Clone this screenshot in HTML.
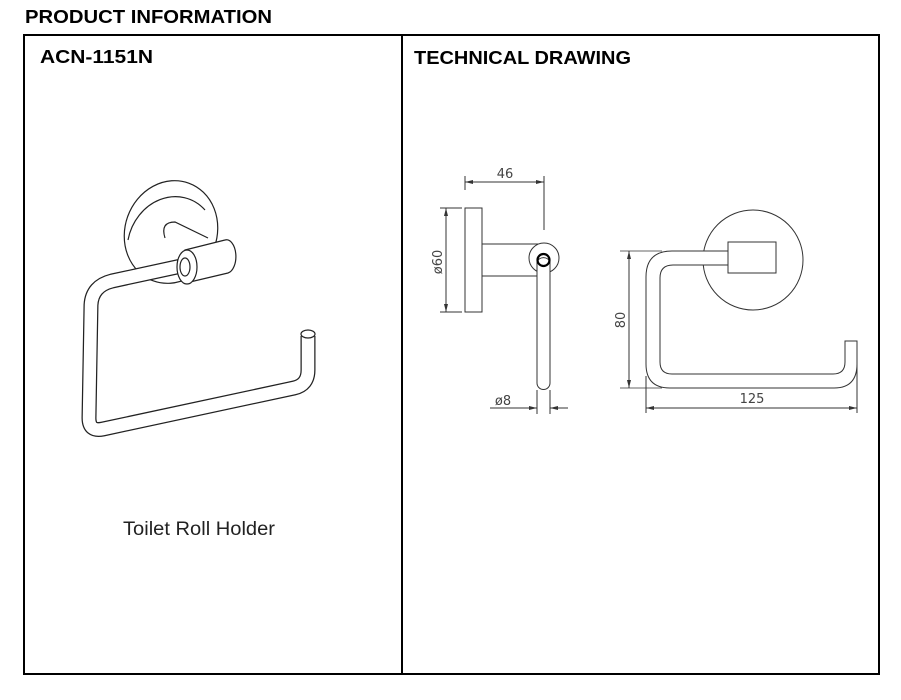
<!DOCTYPE html>
<html><head><meta charset="utf-8"><style>
html,body{margin:0;padding:0;background:#fff;width:901px;height:700px;overflow:hidden}
svg{display:block}
</style></head><body>
<svg width="901" height="700" viewBox="0 0 901 700" xmlns="http://www.w3.org/2000/svg">
<rect width="901" height="700" fill="#fff"/>
<text x="25" y="23" font-family="Liberation Sans, sans-serif" font-weight="bold" font-size="18" textLength="247" lengthAdjust="spacingAndGlyphs">PRODUCT INFORMATION</text>
<rect x="24" y="35" width="855" height="639" fill="none" stroke="#000" stroke-width="2"/>
<line x1="402" y1="35" x2="402" y2="674" stroke="#000" stroke-width="2"/>
<text x="40" y="63" font-family="Liberation Sans, sans-serif" font-weight="bold" font-size="18" textLength="113" lengthAdjust="spacingAndGlyphs">ACN-1151N</text>
<text x="414" y="64" font-family="Liberation Sans, sans-serif" font-weight="bold" font-size="18" textLength="217" lengthAdjust="spacingAndGlyphs">TECHNICAL DRAWING</text>
<text x="199" y="535" text-anchor="middle" font-family="Liberation Sans, sans-serif" font-size="19" fill="#222" textLength="152" lengthAdjust="spacingAndGlyphs">Toilet Roll Holder</text>

<!-- product perspective -->
<g fill="none" stroke="#222" stroke-width="1.2">
<ellipse cx="171" cy="232" rx="46" ry="52" transform="rotate(20 171 232)" fill="#fff"/>
<path d="M128 240 A44 50 20 0 1 205 210" />
<path d="M165 238 Q160 222 175 222 L208 238"/>
</g>
<path d="M186 265 L112 281 Q92 286 91 305 L89 418 Q89 432 103 429 L294 388 Q308 385 308 370 L308 336" fill="none" stroke="#222" stroke-width="15" stroke-linejoin="round"/>
<path d="M186 265 L112 281 Q92 286 91 305 L89 418 Q89 432 103 429 L294 388 Q308 385 308 370 L308 336" fill="none" stroke="#fff" stroke-width="12.5" stroke-linejoin="round"/>
<ellipse cx="308" cy="334" rx="7" ry="4" fill="#fff" stroke="#222" stroke-width="1.2"/>
<g stroke="#222" stroke-width="1.2" fill="#fff">
<path d="M185 250 L225 240 A9 16 0 0 1 228 273 L190 282 Z"/>
<ellipse cx="187" cy="267" rx="10" ry="17"/>
<ellipse cx="185" cy="267" rx="5" ry="9"/>
</g>

<!-- side view -->
<g fill="none" stroke="#333" stroke-width="1">
<rect x="465" y="208" width="17" height="104" fill="#fff"/>
<rect x="482" y="244" width="58" height="32" fill="#fff"/>
<circle cx="544" cy="258" r="15" fill="#fff"/>
<path d="M537 262 A7 7 0 0 1 550 262 L550 383 A6.5 6.5 0 0 1 537 383 Z" fill="#fff"/>
<circle cx="543.5" cy="260" r="6" stroke="#000" stroke-width="2.2"/>
<line x1="465" y1="176" x2="465" y2="190"/>
<line x1="544" y1="176" x2="544" y2="230"/>
<line x1="465" y1="182" x2="544" y2="182"/>
<line x1="440" y1="208" x2="462" y2="208"/>
<line x1="440" y1="312" x2="462" y2="312"/>
<line x1="446" y1="208" x2="446" y2="312"/>
<line x1="537" y1="390" x2="537" y2="414"/>
<line x1="550" y1="390" x2="550" y2="414"/>
<line x1="490" y1="408" x2="537" y2="408"/>
<line x1="550" y1="408" x2="568" y2="408"/>
</g>
<g fill="#333">
<path d="M465 182 l8 -2 v4z"/><path d="M544 182 l-8 -2 v4z"/>
<path d="M446 208 l-2 8 h4z"/><path d="M446 312 l-2 -8 h4z"/>
<path d="M537 408 l-8 -2 v4z"/><path d="M550 408 l8 -2 v4z"/>
</g>
<g font-family="DejaVu Sans, sans-serif" font-size="13" fill="#444">
<text x="505" y="178" text-anchor="middle">46</text>
<text x="503" y="405" text-anchor="middle">ø8</text>
<text transform="translate(442 262) rotate(-90)" text-anchor="middle">ø60</text>
<text transform="translate(625 320) rotate(-90)" text-anchor="middle">80</text>
<text x="752" y="403" text-anchor="middle">125</text>
</g>

<!-- front view -->
<g fill="none" stroke="#333" stroke-width="1">
<circle cx="753" cy="260" r="50" fill="#fff"/>
<path d="M728 251 L672 251 Q646 251 646 277 L646 364 Q646 388 670 388 L834 388 Q857 388 857 364 L857 341 L845 341 L845 362 Q845 374 833 374 L672 374 Q660 374 660 362 L660 278 Q660 265 673 265 L728 265" fill="#fff"/>
<rect x="728" y="242" width="48" height="31" fill="#fff"/>
<line x1="620" y1="251" x2="662" y2="251" stroke-width=".8"/>
<line x1="620" y1="388" x2="662" y2="388" stroke-width=".8"/>
<line x1="629" y1="251" x2="629" y2="388"/>
<line x1="646" y1="376" x2="646" y2="413"/>
<line x1="857" y1="344" x2="857" y2="413"/>
<line x1="646" y1="408" x2="857" y2="408"/>
</g>
<g fill="#333">
<path d="M629 251 l-2 8 h4z"/><path d="M629 388 l-2 -8 h4z"/>
<path d="M646 408 l8 -2 v4z"/><path d="M857 408 l-8 -2 v4z"/>
</g>
</svg>
</body></html>
